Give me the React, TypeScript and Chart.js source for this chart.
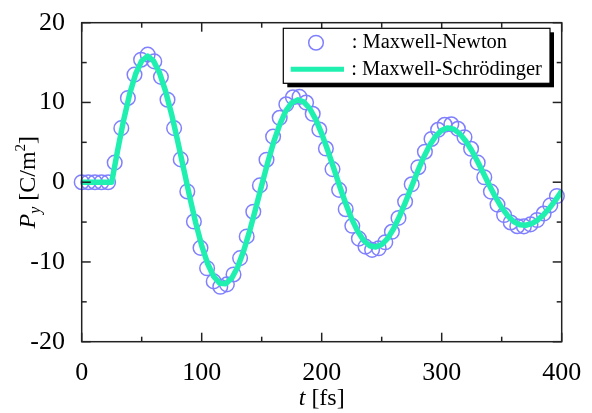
import React, { useEffect, useRef } from 'react';
import { Chart, registerables } from 'chart.js';

Chart.register(...registerables);

// ---- data ----
const lineTimes = [
  0, 5, 10, 15, 20, 25, 30, 35, 40, 45, 50, 55, 60, 65, 70, 75, 80, 85, 90, 95,
  100, 105, 110, 115, 120, 125, 130, 135, 140, 145, 150, 155, 160, 165, 170, 175, 180, 185, 190, 195,
  200, 205, 210, 215, 220, 225, 230, 235, 240, 245, 250, 255, 260, 265, 270, 275, 280, 285, 290, 295,
  300, 305, 310, 315, 320, 325, 330, 335, 340, 345, 350, 355, 360, 365, 370, 375, 380, 385, 390, 395, 400,
];
const schrodingerValues = [
  0, 0, 0, 0, 0, 0, 4.05, 7.83, 11.08, 13.6, 15.21, 15.8, 15.17, 13.65, 11.35, 8.46, 5.14, 1.65, -1.82, -5.1,
  -7.94, -10.23, -11.82, -12.66, -12.72, -12.04, -10.63, -8.6, -6.1, -3.3, -0.38, 2.46, 5.05, 7.23, 8.9, 9.94, 10.33, 10.07, 9.24, 7.88,
  6.09, 4.0, 1.75, -0.51, -2.67, -4.6, -6.16, -7.31, -7.97, -8.12, -7.82, -7.04, -5.81, -4.23, -2.43, -0.52, 1.38, 3.13, 4.62, 5.77,
  6.52, 6.81, 6.65, 6.09, 5.17, 3.98, 2.57, 1.05, -0.47, -1.91, -3.18, -4.2, -4.94, -5.34, -5.4, -5.2, -4.75, -4.07, -3.21, -2.21, -1.12,
];
const circleTimes = [
  0, 5.5, 11, 16.5, 22, 27.5, 33, 38.5, 44, 49.5, 55, 60.5, 66, 71.5, 77, 82.5, 88, 93.5, 99, 104.5,
  110, 115.5, 121, 126.5, 132, 137.5, 143, 148.5, 154, 159.5, 165, 170.5, 176, 181.5, 187, 192.5, 198, 203.5, 209, 214.5,
  220, 225.5, 231, 236.5, 242, 247.5, 253, 258.5, 264, 269.5, 275, 280.5, 286, 291.5, 297, 302.5, 308, 313.5, 319, 324.5,
  330, 335.5, 341, 346.5, 352, 357.5, 363, 368.5, 374, 379.5, 385, 390.5, 396,
];
const newtonValues = [
  0, 0, 0, 0, 0, 2.46, 6.78, 10.56, 13.49, 15.36, 16.0, 15.15, 13.21, 10.34, 6.78, 2.86, -1.16, -4.93, -8.23, -10.79,
  -12.44, -13.11, -12.81, -11.57, -9.52, -6.8, -3.7, -0.4, 2.82, 5.72, 8.08, 9.77, 10.65, 10.7, 9.99, 8.58, 6.6, 4.22, 1.64, -0.96,
  -3.39, -5.47, -7.07, -8.08, -8.48, -8.29, -7.53, -6.22, -4.48, -2.43, -0.26, 1.88, 3.82, 5.42, 6.57, 7.2, 7.26, 6.7, 5.64, 4.19,
  2.45, 0.62, -1.18, -2.81, -4.12, -5.05, -5.52, -5.54, -5.29, -4.74, -3.93, -2.9, -1.73,
];
const seriesLabels = ['Maxwell-Newton', 'Maxwell-Schrödinger'];
const xMajorTicks = [0, 100, 200, 300, 400];
const xMinorTicks = [50, 150, 250, 350];
const yMajorTicks = [-20, -10, 0, 10, 20];
const yMinorTicks = [-15, -5, 5, 15];

// ---- style ----
const SERIF = '"Liberation Serif", "Times New Roman", Times, serif';
const CIRCLE_COLOR = '#8080ff';
const LINE_COLOR = '#1ff0b0';
const AXIS_COLOR = '#222';

const framePlugin = {
  id: 'frameTicks',
  afterDatasetsDraw(chart: any) {
    const { ctx, chartArea: a, scales } = chart;
    const x = scales.x;
    const y = scales.y;
    ctx.save();
    ctx.strokeStyle = AXIS_COLOR;
    ctx.lineWidth = 1.5;
    ctx.strokeRect(a.left, a.top, a.right - a.left, a.bottom - a.top);
    const seg = (x1: number, y1: number, x2: number, y2: number) => {
      ctx.beginPath();
      ctx.moveTo(x1, y1);
      ctx.lineTo(x2, y2);
      ctx.stroke();
    };
    const xt = (vals: number[], len: number) =>
      vals.forEach((v) => {
        const p = x.getPixelForValue(v);
        seg(p, a.bottom, p, a.bottom - len);
        seg(p, a.top, p, a.top + len);
      });
    const yt = (vals: number[], len: number) =>
      vals.forEach((v) => {
        const p = y.getPixelForValue(v);
        seg(a.left, p, a.left + len, p);
        seg(a.right, p, a.right - len, p);
      });
    xt(xMajorTicks, 9);
    xt(xMinorTicks, 5);
    yt(yMajorTicks, 9);
    yt(yMinorTicks, 5);
    ctx.restore();
  },
};

const drawParts = (ctx: CanvasRenderingContext2D, parts: { t: string; f: string; dy: number }[], cx: number) => {
  let total = 0;
  parts.forEach((p) => {
    ctx.font = p.f;
    total += ctx.measureText(p.t).width;
  });
  let xx = cx - total / 2;
  parts.forEach((p) => {
    ctx.font = p.f;
    ctx.fillText(p.t, xx, p.dy);
    xx += ctx.measureText(p.t).width;
  });
};

const annotationPlugin = {
  id: 'titlesLegend',
  afterDraw(chart: any) {
    const { ctx, chartArea: a } = chart;
    ctx.save();
    ctx.fillStyle = '#000';
    ctx.textBaseline = 'alphabetic';
    ctx.textAlign = 'left';
    // x title
    ctx.save();
    ctx.translate(0, 405);
    drawParts(
      ctx,
      [
        { t: 't', f: `italic 24px ${SERIF}`, dy: 0 },
        { t: ' [fs]', f: `24px ${SERIF}`, dy: 0 },
      ],
      (a.left + a.right) / 2
    );
    ctx.restore();
    // y title
    ctx.save();
    ctx.translate(35, (a.top + a.bottom) / 2);
    ctx.rotate(-Math.PI / 2);
    drawParts(
      ctx,
      [
        { t: 'P', f: `italic 24px ${SERIF}`, dy: 0 },
        { t: 'y', f: `italic 16px ${SERIF}`, dy: 5 },
        { t: ' [C/m', f: `24px ${SERIF}`, dy: 0 },
        { t: '2', f: `15px ${SERIF}`, dy: -10 },
        { t: ']', f: `24px ${SERIF}`, dy: 0 },
      ],
      0
    );
    ctx.restore();

    // legend
    const bx = 283.3, by = 28.3, bw = 266.7, bh = 55;
    ctx.fillStyle = '#000';
    ctx.fillRect(bx + 4, by + 4, bw, bh);
    ctx.fillStyle = '#fff';
    ctx.fillRect(bx, by, bw, bh);
    ctx.strokeStyle = '#000';
    ctx.lineWidth = 1.2;
    ctx.strokeRect(bx, by, bw, bh);

    ctx.strokeStyle = CIRCLE_COLOR;
    ctx.lineWidth = 1.5;
    ctx.beginPath();
    ctx.arc(316, 42.7, 7.3, 0, Math.PI * 2);
    ctx.stroke();

    ctx.strokeStyle = LINE_COLOR;
    ctx.lineWidth = 5;
    ctx.beginPath();
    ctx.moveTo(290.7, 69.3);
    ctx.lineTo(344, 69.3);
    ctx.stroke();

    ctx.fillStyle = '#000';
    ctx.font = `20.5px ${SERIF}`;
    ctx.fillText(': ' + seriesLabels[0], 351.7, 47.5);
    ctx.fillText(': ' + seriesLabels[1], 351.2, 74.5);
    ctx.restore();
  },
};

export default function App() {
  const ref = useRef<HTMLCanvasElement>(null);
  useEffect(() => {
    if (!ref.current) return;
    const chart = new Chart(ref.current, {
      type: 'scatter',
      data: {
        datasets: [
          {
            label: seriesLabels[1],
            type: 'line',
            data: lineTimes.map((t, i) => ({ x: t, y: schrodingerValues[i] })),
            borderColor: LINE_COLOR,
            borderWidth: 5.5,
            pointRadius: 0,
            tension: 0,
            fill: false,
            order: 0,
            borderJoinStyle: 'round',
            borderCapStyle: 'butt',
          },
          {
            label: seriesLabels[0],
            data: circleTimes.map((t, i) => ({ x: t, y: newtonValues[i] })),
            borderColor: CIRCLE_COLOR,
            backgroundColor: 'rgba(0,0,0,0)',
            borderWidth: 1.5,
            pointRadius: 7.3,
            pointStyle: 'circle',
            showLine: false,
            order: 1,
            clip: false,
          },
        ] as any,
      },
      options: {
        responsive: false,
        animation: false,
        devicePixelRatio: 1,
        layout: { padding: { top: 22.7, right: 30.3, left: 0, bottom: 0 } },
        plugins: { legend: { display: false }, tooltip: { enabled: false } },
        scales: {
          x: {
            type: 'linear',
            min: 0,
            max: 400,
            position: 'bottom',
            grid: { display: false, drawTicks: false },
            border: { display: false },
            ticks: {
              stepSize: 100,
              color: '#000',
              font: { family: SERIF, size: 26 },
              padding: 16,
              maxRotation: 0,
              autoSkip: false,
            },
            afterBuildTicks: (s: any) => {
              s.ticks = xMajorTicks.map((v) => ({ value: v }));
            },
            afterFit: (s: any) => {
              s.height = 71.3;
              s.paddingLeft = 0;
              s.paddingRight = 0;
            },
          },
          y: {
            type: 'linear',
            min: -20,
            max: 20,
            grid: { display: false, drawTicks: false },
            border: { display: false },
            ticks: {
              stepSize: 10,
              color: '#000',
              font: { family: SERIF, size: 26 },
              padding: 16.7,
            },
            afterBuildTicks: (s: any) => {
              s.ticks = yMajorTicks.map((v) => ({ value: v }));
            },
            afterFit: (s: any) => {
              s.width = 81.7;
              s.paddingTop = 0;
              s.paddingBottom = 0;
            },
          },
        },
      } as any,
      plugins: [framePlugin, annotationPlugin],
    });
    return () => chart.destroy();
  }, []);
  return (
    <div style={{ position: 'fixed', left: 0, top: 0, width: 592, height: 413, background: '#fff' }}>
      <canvas ref={ref} width={592} height={413} style={{ width: 592, height: 413, display: 'block' }} />
    </div>
  );
}
